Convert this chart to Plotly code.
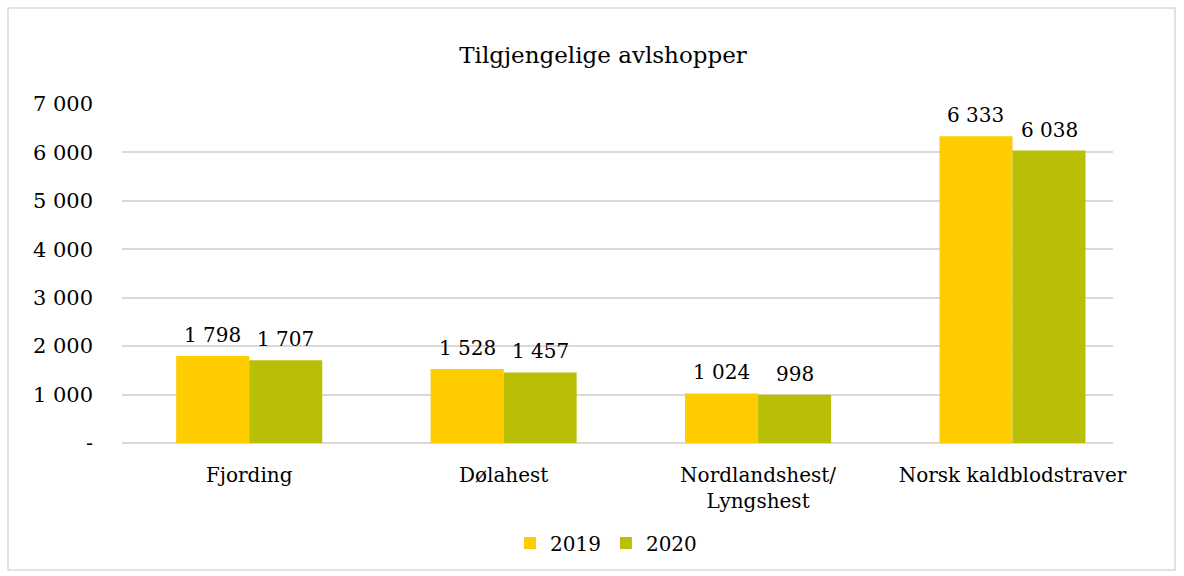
import plotly.graph_objects as go

# Tilgjengelige avlshopper per rase
categories = ["Fjording", "Dølahest", "Nordlandshest/<br>Lyngshest", "Norsk kaldblodstraver"]
values_2019 = [1798, 1528, 1024, 6333]
values_2020 = [1707, 1457, 998, 6038]
labels_2019 = ["1 798", "1 528", "1 024", "6 333"]
labels_2020 = ["1 707", "1 457", "998", "6 038"]
tick_values = [0, 1000, 2000, 3000, 4000, 5000, 6000, 7000]
tick_labels = ["-", "1 000", "2 000", "3 000", "4 000", "5 000", "6 000", "7 000"]

FONT = "Georgia, 'DejaVu Serif', serif"
W, H = 1184, 576
ML, MR, MT, MB = 122, 71, 104, 133
PW, PH = W - ML - MR, H - MT - MB
X_RANGE = [-0.5, 3.395]
BARGAP = 0.426


def px_x(x):
    return (x - ML) / PW


def px_y(y):
    return (H - MB - y) / PH


# half a bar width in pixels, used to centre the value labels over each bar
unit_px = PW / (X_RANGE[1] - X_RANGE[0])
half_bar = (1 - BARGAP) / 2 * unit_px / 2

fig = go.Figure()
fig.add_trace(go.Bar(name="2019", x=categories, y=values_2019, marker_color="#FFCC00",
                     marker_line_width=0))
fig.add_trace(go.Bar(name="2020", x=categories, y=values_2020, marker_color="#B8BF05",
                     marker_line_width=0))

annotations = []
for cat, v19, t19, v20, t20 in zip(categories, values_2019, labels_2019, values_2020, labels_2020):
    for v, t, dx in ((v19, t19, -half_bar), (v20, t20, half_bar)):
        annotations.append(dict(x=cat, y=v, xref="x", yref="y", text=t, showarrow=False,
                                xanchor="center", yanchor="bottom", xshift=dx, yshift=7,
                                font=dict(size=20, family=FONT, color="#000000")))

fig.update_layout(
    width=W, height=H,
    margin=dict(l=ML, r=MR, t=MT, b=MB),
    paper_bgcolor="white", plot_bgcolor="white",
    font=dict(family=FONT, color="#000000", size=20),
    barmode="group", bargap=BARGAP, bargroupgap=0,
    title=dict(text="Tilgjengelige avlshopper", x=px_x(603), xref="paper",
               xanchor="center", y=1 - 55 / H, yanchor="middle",
               font=dict(size=23, family=FONT)),
    legend=dict(orientation="h", x=px_x(606), xanchor="center",
                y=px_y(543), yanchor="middle", font=dict(size=20, family=FONT),
                itemwidth=30, traceorder="normal"),
    yaxis=dict(range=[0, 7000], tickvals=tick_values, ticktext=tick_labels,
               showgrid=True, gridcolor="#D9D9D9", gridwidth=1.5,
               zeroline=True, zerolinecolor="#D9D9D9", zerolinewidth=1.5,
               showline=False, ticks="", ticklabelstandoff=28,
               tickfont=dict(size=21, family=FONT)),
    xaxis=dict(range=X_RANGE, showline=False, ticks="", ticklabelstandoff=18,
               tickfont=dict(size=20, family=FONT), tickangle=0),
    annotations=annotations,
    shapes=[dict(type="rect", xref="paper", yref="paper",
                 x0=px_x(8), x1=px_x(1175), y0=px_y(570), y1=px_y(8),
                 line=dict(color="#D9D9D9", width=1.5), fillcolor="rgba(0,0,0,0)",
                 layer="below")],
)

fig.write_html("out.html")
